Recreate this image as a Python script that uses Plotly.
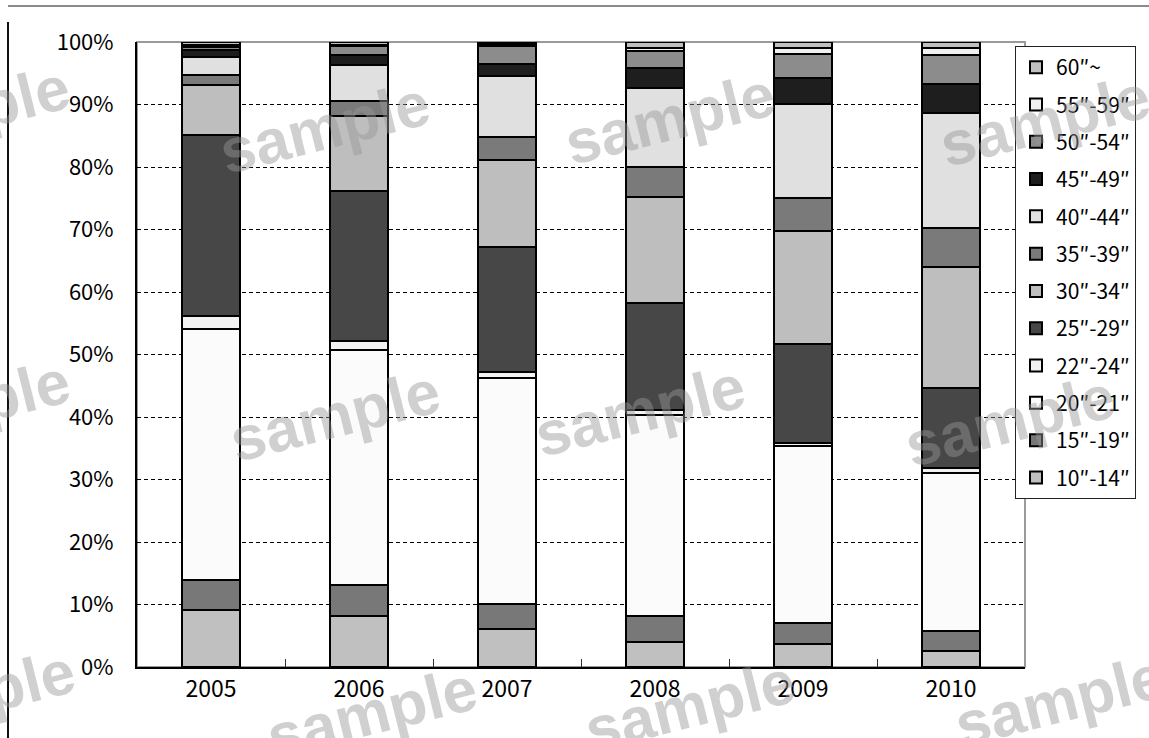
import plotly.graph_objects as go

# Survey years (x categories)
years = ["2005", "2006", "2007", "2008", "2009", "2010"]

# Size bands, bottom of the stack first
bands = ["10″-14″", "15″-19″", "20″-21″", "22″-24″", "25″-29″", "30″-34″",
         "35″-39″", "40″-44″", "45″-49″", "50″-54″", "55″-59″", "60″~"]

# Share (%) of each band per year
s_10_14 = [9.1, 8.2, 6.1, 4.0, 3.7, 2.6]
s_15_19 = [4.9, 4.9, 4.0, 4.2, 3.4, 3.1]
s_20_21 = [40.1, 37.6, 36.1, 32.1, 28.2, 25.3]
s_22_24 = [2.1, 1.5, 1.0, 0.8, 0.6, 0.8]
s_25_29 = [28.9, 24.0, 20.0, 17.2, 15.8, 12.9]
s_30_34 = [8.1, 12.0, 13.9, 16.9, 18.1, 19.3]
s_35_39 = [1.5, 2.4, 3.7, 4.8, 5.3, 6.2]
s_40_44 = [2.9, 5.7, 9.8, 12.6, 15.0, 18.4]
s_45_49 = [1.2, 1.6, 1.9, 3.2, 4.1, 4.7]
s_50_54 = [0.4, 1.4, 2.9, 2.7, 3.9, 4.7]
s_55_59 = [0.3, 0.3, 0.3, 0.6, 1.0, 1.0]
s_60_up = [0.5, 0.4, 0.3, 0.9, 0.9, 1.0]

series = [s_10_14, s_15_19, s_20_21, s_22_24, s_25_29, s_30_34,
          s_35_39, s_40_44, s_45_49, s_50_54, s_55_59, s_60_up]

fills = ["#C0C0C0", "#787878", "#FBFBFB", "#F2F2F2", "#474747", "#BEBEBE",
         "#7A7A7A", "#E0E0E0", "#1E1E1E", "#8C8C8C", "#F0F0F0", "#C0C0C0"]

FONT = "Noto Sans CJK JP"

fig = go.Figure()
n = len(bands)
for i, (name, vals, col) in enumerate(zip(bands, series, fills)):
    fig.add_trace(go.Bar(
        x=years, y=vals, name=name, legendgroup=name,
        legendrank=n - i,  # top band listed first
        marker=dict(color=col, line=dict(color="#000000", width=2)),
        hovertemplate="%{x} " + name + ": %{y}%<extra></extra>",
    ))

# plot area in pixels: x 137..1025, y 42..667
L, R, T, B = 137, 1025, 42, 667
W, H = 1149, 738


def px(x, y):
    return (x - L) / (R - L), (B - y) / (B - T)


shapes = [
    # light frame around the plot area
    dict(type="rect", xref="paper", yref="paper", x0=0, y0=0, x1=1, y1=1,
         line=dict(color="#9A9A9A", width=2), layer="below"),
]
# outer chart frame (top and left edges)
fx0, fy0 = px(8, 6)
fx1, _ = px(W, 6)
_, fyb = px(8, 22)
_, fye = px(8, H)
shapes.append(dict(type="line", xref="paper", yref="paper", x0=fx0, x1=fx1,
                   y0=fy0, y1=fy0, line=dict(color="#8A8A8A", width=2)))
shapes.append(dict(type="line", xref="paper", yref="paper", x0=fx0, x1=fx0,
                   y0=fyb, y1=fye, line=dict(color="#111111", width=2)))

# "sample" stamps laid across the chart
stamp_pos = [(-35, 112), (325, 128), (670, 118), (1045, 120),
             (-35, 405), (335, 415), (640, 410), (1010, 420),
             (-30, 695), (372, 712), (690, 705), (1060, 700)]
annotations = []
for sx, sy in stamp_pos:
    ax_, ay_ = px(sx, sy)
    annotations.append(dict(
        x=ax_, y=ay_, xref="paper", yref="paper", text="<b>sample</b>",
        xanchor="center", yanchor="middle",
        showarrow=False, textangle=-14,
        font=dict(family="Liberation Sans", size=62,
                  color="rgba(150,150,150,0.45)"),
    ))

lx, ly = px(1015, 46)

fig.update_layout(
    width=W, height=H,
    margin=dict(l=L, r=W - R, t=T, b=H - B),
    paper_bgcolor="white", plot_bgcolor="white",
    barmode="stack", bargap=0.61,
    font=dict(family=FONT, color="#000000"),
    showlegend=True,
    legend=dict(
        x=lx, y=ly, xanchor="left", yanchor="top",
        traceorder="grouped", tracegroupgap=7,
        bgcolor="white", bordercolor="#222222", borderwidth=1,
        font=dict(family=FONT, size=21, color="#000000"),
        itemclick=False,
    ),
    xaxis=dict(
        type="category", showgrid=False, showline=True,
        linecolor="#000000", linewidth=2,
        ticks="inside", tickson="boundaries", ticklen=8,
        tickcolor="#333333", tickwidth=1,
        tickfont=dict(family=FONT, size=23, color="#000000"),
    ),
    yaxis=dict(
        range=[0, 100], dtick=10, ticksuffix="%",
        showline=True, linecolor="#000000", linewidth=2,
        showgrid=True, gridcolor="#000000", gridwidth=1, griddash="4px,3px",
        zeroline=False, ticks="", ticklabelstandoff=17,
        tickfont=dict(family=FONT, size=22, color="#000000"),
    ),
    shapes=shapes,
    annotations=annotations,
)

fig.write_html("out.html")
